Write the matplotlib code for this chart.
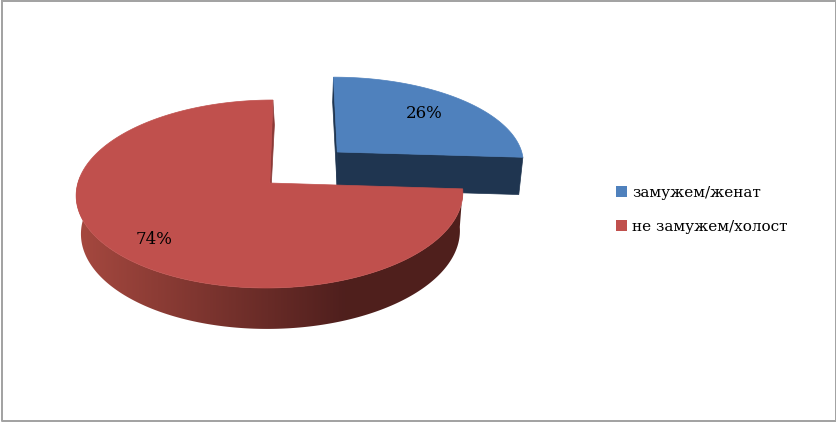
# 3D looking pie chart, drawn by hand since matplotlib has no 3D pie
import numpy as np
import matplotlib.pyplot as plt
from matplotlib.colors import to_rgb
from matplotlib.patches import Patch, Polygon

# Data
labels = ['замужем/женат', 'не замужем/холост']
shares = [26, 74]

# Styles
blue_top = '#4f81bd'
blue_side = '#1f3550'
red_top = '#c0504d'
red_side_light = '#a5483f'
red_side_dark = '#4f1f1d'
frame_color = '#a3a3a3'

# Projection settings, in pixels of the 837x422 picture
cx, cy = 267, 183
rx, ry = 192, 92.7
persp = 0.117
depth = 38
lean = 0.04


def project(u, v, z=0.0):
    # z=0 is the top face, z=1 the bottom face
    s = 1 / (1 - persp * v)
    shrink = 1 - 0.02 * z
    dy = ry * v * s * shrink
    x = cx + rx * u * s * shrink + 1.0 * z - lean * dy
    y = cy + dy + depth * z * s
    return x, y


def rim(t, du, dv, z=0.0, vs=1.0):
    # t in radians, clockwise from 12 o'clock
    return project(du + np.sin(t), dv - vs * np.cos(t), z)


blue_end = 2 * np.pi * shares[0] / sum(shares)
t_blue = np.linspace(0, blue_end, 100)
t_red = np.linspace(blue_end, 2 * np.pi, 300)

# slice offsets from the pie centre
blue_du, blue_dv, blue_vs = 0.374, -0.348, 0.97
red_du, red_dv = 0.015, 0.0

fig = plt.figure(figsize=(8.37, 4.22), dpi=100)
ax = fig.add_axes([0, 0, 1, 1])
ax.axis('off')

# %%
# Blue slice: walls first, then the top
ax0 = project(blue_du, blue_dv)
ax1 = project(blue_du, blue_dv, 1)
ex0 = rim(blue_end, blue_du, blue_dv, vs=blue_vs)
ex1 = rim(blue_end, blue_du, blue_dv, 1, vs=blue_vs)
ax.fill([ax0[0], ex0[0], ex1[0], ax1[0]], [ax0[1], ex0[1], ex1[1], ax1[1]],
        color=blue_side, lw=0.5, zorder=1)
tp0 = rim(0, blue_du, blue_dv, vs=blue_vs)
ax.fill([ax0[0], tp0[0], tp0[0] - 0.8, ax0[0]], [ax0[1], tp0[1], tp0[1] + 25, ax1[1]],
        color=blue_side, lw=0.5, zorder=1)
bx, by = rim(t_blue, blue_du, blue_dv, vs=blue_vs)
ax.fill(np.r_[ax0[0], bx], np.r_[ax0[1], by], color=blue_top, lw=0.5, zorder=2)

# %%
# Red slice: outer side is a gradient image clipped to the side outline
t_side = t_red[t_red < np.radians(275)]
sx0, sy0 = rim(t_side, red_du, red_dv)
sx1, sy1 = rim(t_side, red_du, red_dv, 1)
side_xy = np.c_[np.r_[sx0, sx1[::-1]], np.r_[sy0, sy1[::-1]]]

grad_x = np.arange(70, 470)
f = np.clip((grad_x - 80) / (345 - 80), 0, 1)[:, None]
c_a = np.array(to_rgb(red_side_light))
c_b = np.array(to_rgb(red_side_dark))
grad = (c_a + (c_b - c_a) * f)[None, :, :]
im = ax.imshow(grad, extent=(70, 470, 340, 170), aspect='auto', zorder=3)
im.set_clip_path(Polygon(side_xy, closed=True, transform=ax.transData))

# thin wall along the 12 o'clock edge
ap = project(red_du, red_dv)
tp = rim(2 * np.pi, red_du, red_dv)
ax.fill([ap[0], tp[0], tp[0] + 1.5, ap[0] + 1.5], [ap[1], tp[1], tp[1] + 25, ap[1]],
        color='#8c3a37', lw=0.5, zorder=3)

rx_pts, ry_pts = rim(t_red, red_du, red_dv)
ax.fill(np.r_[ap[0], rx_pts], np.r_[ap[1], ry_pts], color=red_top, lw=0.5, zorder=4)

ax.set_xlim(0, 837)
ax.set_ylim(422, 0)

# %%
# Percent labels and legend
font = 'DejaVu Serif'
ax.text(424, 113, f'{shares[0]}%', ha='center', va='center', fontsize=12,
        family=font, color='black', zorder=5)
ax.text(154, 240, f'{shares[1]}%', ha='center', va='center', fontsize=12,
        family=font, color='black', zorder=5)

handles = [Patch(facecolor=blue_top, edgecolor='none'),
           Patch(facecolor=red_top, edgecolor='none')]
ax.legend(handles, labels, loc='upper left', bbox_to_anchor=(616 / 837, 1 - 186 / 422),
          frameon=False, prop={'family': font, 'size': 11}, handlelength=0.72,
          handleheight=0.72, handletextpad=0.33, labelspacing=1.3,
          borderpad=0, borderaxespad=0)

# Picture frame
ax.plot([2, 836, 836, 2, 2], [1, 1, 421, 421, 1], color=frame_color, lw=1.44,
        clip_on=False, zorder=6)

fig.savefig('out.png', dpi=100)
